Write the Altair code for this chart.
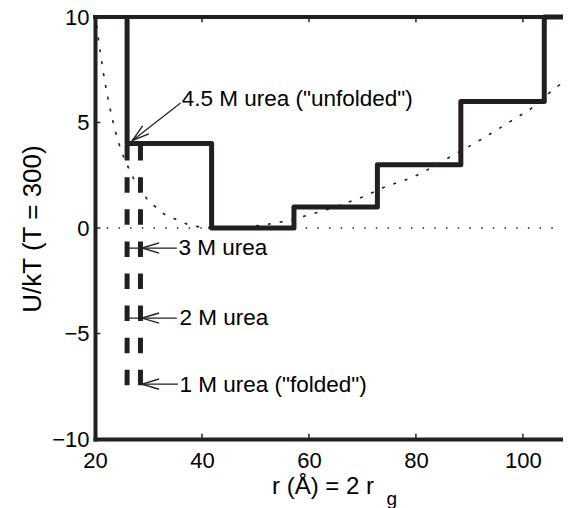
import altair as alt
import pandas as pd

INK = "#231f20"
FONT = "Liberation Sans"

# x / y axis ticks
x_ticks = [20, 40, 60, 80, 100]
y_ticks = [-10, -5, 0, 5, 10]
x_inner_ticks = [40, 60, 80, 100]
y_inner_ticks = [-5, 0, 5]
X_MAX = 107.5

# solid staircase potential (4.5 M urea, "unfolded")
step_r = [26.0, 26.0, 41.8, 41.8, 57.2, 57.2, 72.8, 72.8, 88.4, 88.4, 104.0, 104.0, 107.5]
step_u = [10, 4, 4, 0, 0, 1, 1, 3, 3, 6, 6, 10, 10]

# dashed well walls (lower urea concentrations)
dash_r = [26.0, 28.5]
dash_top = [3.93, 3.93]
dash_bottom = [-7.45, -7.45]

# dotted smooth curve
curve_r = [20.3, 21.0, 21.8, 22.7, 23.8, 25.0, 26.0, 27.3, 28.5, 29.8, 31.3, 33.2, 35.4,
           37.5, 39.7, 43.0, 46.0, 50.0, 55.0, 60.0, 66.0, 70.0, 74.2, 79.5, 86.4,
           92.0, 98.1, 101.9, 105.6, 107.5]
curve_u = [9.6, 8.3, 7.0, 5.8, 4.6, 3.6, 3.0, 2.3, 1.85, 1.35, 1.0, 0.62, 0.38,
           0.16, 0.05, 0.0, 0.02, 0.1, 0.3, 0.62, 1.1, 1.47, 1.94, 2.42, 3.37,
           4.17, 5.12, 5.73, 6.54, 6.9]

# dotted zero line
zero_r = [20, 107.5]
zero_u = [0, 0]

# frame (top edge)
frame_r = [20]
frame_r2 = [107.5]
frame_u = [10]

# annotations
labels = ['4.5 M urea ("unfolded")', "3 M urea", "2 M urea", '1 M urea ("folded")']
label_r = [36.2, 35.6, 35.8, 35.8]
label_u = [6.1, -0.95, -4.27, -7.42]
tail_r = [36.0, 35.3, 35.3, 35.5]
tail_u = [5.92, -0.95, -4.27, -7.40]
end_r = [27.0, 26.0, 26.0, 28.5]
end_u = [4.15, -0.95, -4.27, -7.40]
head_r = [27.0, 28.8, 28.8, 28.8]
head_u = [4.15, -0.95, -4.27, -7.40]
head_angle = [321.8, 0, 0, 0]

xs = alt.Scale(domain=[20, X_MAX], nice=False, zero=False)
ys = alt.Scale(domain=[-10, 10], nice=False, zero=False)

x_axis = alt.Axis(values=x_ticks, ticks=False, grid=False, domainWidth=4, domainColor=INK,
                  domainCap="square", labelFontSize=22, labelFont=FONT, labelColor="black",
                  labelPadding=11, labelFlush=False, labelOverlap=False,
                  title="r (Å) = 2 r", titleFont=FONT, titleFontSize=24,
                  titleFontWeight="normal", titleColor="black", titleX=227.5, titleY=54,
                  titleBaseline="alphabetic", titleAlign="center")
y_axis = alt.Axis(values=y_ticks, ticks=False, grid=False, domainWidth=4, domainColor=INK,
                  domainCap="square", labelFontSize=22, labelFont=FONT, labelColor="black",
                  labelPadding=6, labelFlush=False, labelOverlap=False,
                  title="U/kT (T = 300)", titleFont=FONT, titleFontSize=26,
                  titleFontWeight="normal", titleColor="black", titleX=-55, titleY=211.5,
                  titleBaseline="alphabetic", titleAlign="center", titleAngle=270)

step_df = pd.DataFrame({"r": step_r, "u": step_u, "o": list(range(len(step_r)))})
curve_df = pd.DataFrame({"r": curve_r, "u": curve_u, "o": list(range(len(curve_r)))})
zero_df = pd.DataFrame({"r": zero_r, "u": zero_u})
dash_df = pd.DataFrame({"r": dash_r, "t": dash_top, "b": dash_bottom})
frame_df = pd.DataFrame({"r": frame_r, "r2": frame_r2, "u": frame_u})
ann_df = pd.DataFrame({"label": labels, "lr": label_r, "lu": label_u,
                       "tr": tail_r, "tu": tail_u, "er": end_r, "eu": end_u,
                       "hr": head_r, "hu": head_u, "ang": head_angle})
xt_df = pd.DataFrame({"r": x_inner_ticks, "b0": [-10] * 4, "b1": [-9.75] * 4,
                      "t0": [10] * 4, "t1": [9.75] * 4})
yt_df = pd.DataFrame({"u": y_inner_ticks, "l0": [20] * 3, "l1": [21] * 3})


def X(f):
    return alt.X(f, type="quantitative", scale=xs, axis=x_axis)


def Y(f):
    return alt.Y(f, type="quantitative", scale=ys, axis=y_axis)


zero = alt.Chart(zero_df).mark_line(color=INK, strokeWidth=1.5, strokeDash=[1.5, 10.2]).encode(
    x=X("r"), y=Y("u"))

curve = alt.Chart(curve_df).mark_line(color=INK, strokeWidth=1.6, strokeDash=[3, 9],
                                      interpolate="monotone").encode(
    x=X("r"), y=Y("u"), order="o:Q")

dashes = alt.Chart(dash_df).mark_rule(color=INK, strokeWidth=5, strokeDash=[15.5, 16.6]).encode(
    x=X("r"), y=Y("t"), y2="b")

steps = alt.Chart(step_df).mark_line(color=INK, strokeWidth=5, strokeJoin="round").encode(
    x=X("r"), y=Y("u"), order="o:Q")

top_frame = alt.Chart(frame_df).mark_rule(color=INK, strokeWidth=4, strokeCap="square").encode(
    x=X("r"), x2="r2", y=Y("u"))

xt_bottom = alt.Chart(xt_df).mark_rule(color=INK, strokeWidth=1.5).encode(
    x=X("r"), y=Y("b0"), y2="b1")
xt_top = alt.Chart(xt_df).mark_rule(color=INK, strokeWidth=1.5).encode(
    x=X("r"), y=Y("t0"), y2="t1")
yt_left = alt.Chart(yt_df).mark_rule(color=INK, strokeWidth=1.5).encode(
    y=Y("u"), x=X("l0"), x2="l1")

arrow_lines = alt.Chart(ann_df).mark_rule(color=INK, strokeWidth=1.2).encode(
    x=X("tr"), y=Y("tu"), x2="er", y2="eu")

heads = alt.Chart(ann_df).mark_point(shape="M 2 -0.6 L 0 0 L 2 0.6", filled=False, size=289,
                                     color=INK, strokeWidth=1.4, opacity=1).encode(
    x=X("hr"), y=Y("hu"), angle=alt.Angle("ang:Q", scale=None))

texts = alt.Chart(ann_df).mark_text(align="left", baseline="middle", font=FONT, fontSize=22.5,
                                    color="black").encode(
    x=X("lr"), y=Y("lu"), text="label:N")

sub_g = alt.Chart(pd.DataFrame({"t": ["g"], "r": [75.5]})).mark_text(
    align="center", baseline="alphabetic", font=FONT, fontSize=19, color="black").encode(
    x=X("r"), y=alt.value(488), text="t:N")

chart = alt.layer(zero, curve, dashes, steps, top_frame, xt_bottom, xt_top, yt_left,
                  arrow_lines, heads, texts, sub_g).properties(
    width=468, height=422,
    padding={"left": 87, "top": 9, "right": 0, "bottom": 69},
    autosize=alt.AutoSizeParams(type="none"),
).configure_view(stroke=None).configure(background="white")

chart.save("out.html", embed_options={"renderer": "svg", "actions": False})
